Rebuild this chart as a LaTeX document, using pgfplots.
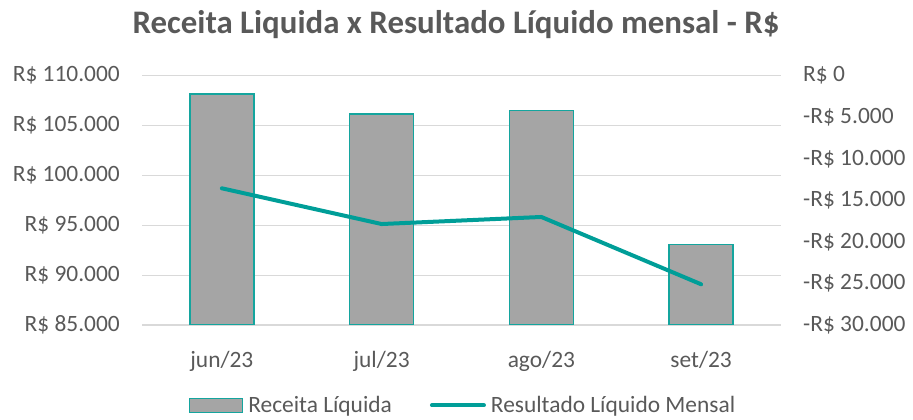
\documentclass[border=0pt]{standalone}
\usepackage{fontspec}
\setmainfont{Carlito}
\usepackage{pgfplots}
\pgfplotsset{compat=1.18}
\definecolor{barfill}{RGB}{165,165,165}
\definecolor{tealc}{RGB}{0,158,152}
\definecolor{baredge}{RGB}{20,165,158}
\definecolor{txt}{RGB}{89,89,89}
\definecolor{gridc}{RGB}{217,217,217}
\begin{document}
\begin{tikzpicture}
\useasboundingbox (0bp,0bp) rectangle (913bp,420bp);
\node[font=\bfseries\fontsize{33}{38}\selectfont, text=txt, anchor=base] at (456bp,386bp) {Receita Liquida x Resultado Líquido mensal - R\$};
\begin{axis}[
  at={(142bp,95bp)}, anchor=south west,
  scale only axis, width=639bp, height=249.3bp,
  xmin=-0.5, xmax=3.5, ymin=85000, ymax=110000,
  scaled y ticks=false,
  xtick={0,1,2,3}, xticklabels={jun/23,jul/23,ago/23,set/23},
  ytick={85000,90000,95000,100000,105000,110000},
  yticklabels={R\$ 85.000,R\$ 90.000,R\$ 95.000,R\$ 100.000,R\$ 105.000,R\$ 110.000},
  ymajorgrids, grid style={draw=gridc, line width=1.2bp},
  axis line style={draw=none}, tick style={draw=none},
  tick label style={font=\fontsize{23.5}{27}\selectfont, text=txt, inner sep=0pt},
  yticklabel style={anchor=east, xshift=-22bp},
  xticklabel style={anchor=base, yshift=-42bp},
]
\addplot[ybar, bar width=64bp, fill=barfill, draw=baredge, line width=1.3bp]
  coordinates {(0,108160) (1,106150) (2,106530) (3,93070)};
\end{axis}
\begin{axis}[
  at={(142bp,95bp)}, anchor=south west,
  scale only axis, width=639bp, height=249.3bp,
  xmin=-0.5, xmax=3.5, ymin=-30000, ymax=0,
  scaled y ticks=false,
  xtick=\empty,
  ytick={-30000,-25000,-20000,-15000,-10000,-5000,0},
  yticklabels={-R\$ 30.000,-R\$ 25.000,-R\$ 20.000,-R\$ 15.000,-R\$ 10.000,-R\$ 5.000,R\$ 0},
  yticklabel pos=right,
  axis line style={draw=none}, tick style={draw=none},
  tick label style={font=\fontsize{23.5}{27}\selectfont, text=txt, inner sep=0pt},
  yticklabel style={anchor=west, xshift=22bp},
  legend columns=2,
  legend style={draw=none, fill=none, at={(0.501,-0.322)}, anchor=center,
    font=\fontsize{23.5}{27}\selectfont, text=txt, inner sep=0pt,
    nodes={inner sep=0pt},
    /tikz/every odd column/.append style={column sep=5bp},
    /tikz/every even column/.append style={column sep=38bp}},
]
\addlegendimage{legend image code/.code={\draw[fill=barfill, draw=baredge, line width=1.3bp] (0bp,-7bp) rectangle (53bp,7bp);}}
\addlegendentry{Receita Líquida}
\addplot[color=tealc, line width=4bp, line join=round, line cap=round,
  legend image code/.code={\draw[color=tealc, line width=4bp, line cap=round] (2bp,0bp) -- (54bp,0bp);}]
  coordinates {(0,-13550) (1,-17850) (2,-17000) (3,-25100)};
\addlegendentry{Resultado Líquido Mensal}
\end{axis}
\end{tikzpicture}
\end{document}
